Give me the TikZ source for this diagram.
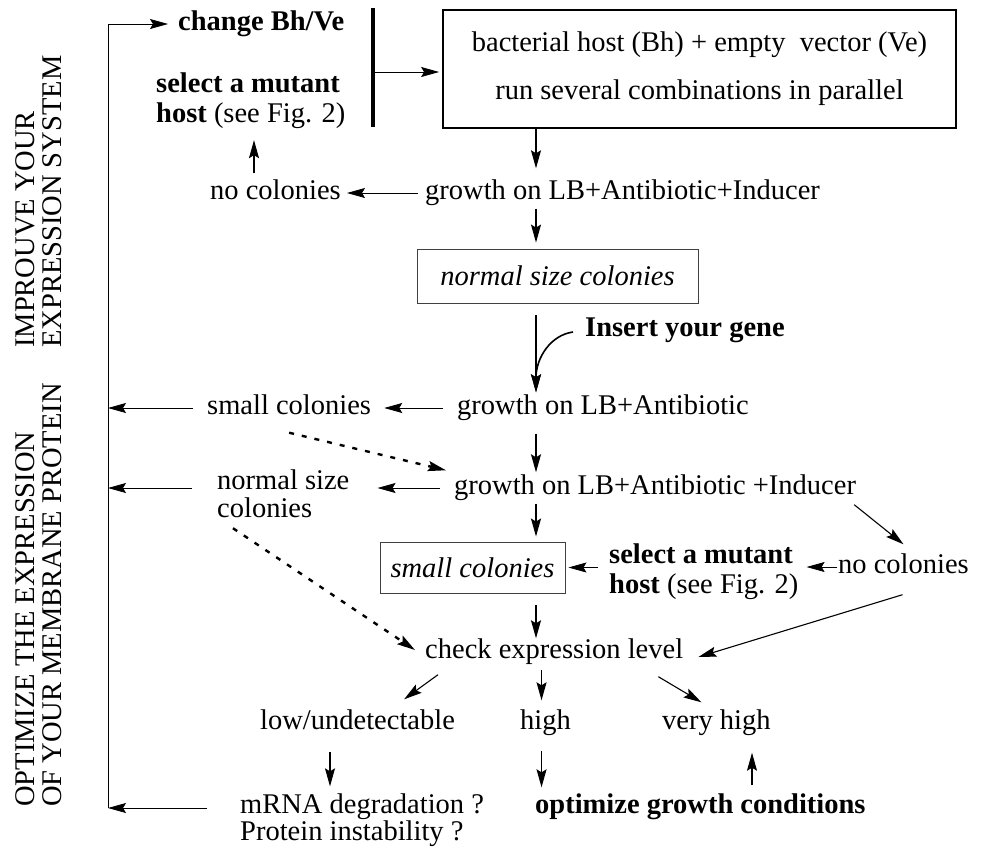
\documentclass[tikz,border=0pt]{standalone}
\usepackage{fontspec}
\setmainfont{Liberation Serif}
\usetikzlibrary{arrows.meta,calc}
\newcommand{\fsz}{\fontsize{28.5}{29}\selectfont}
\begin{document}
\begin{tikzpicture}[x=1pt,y=-1pt,
  txt/.style={font=\fsz, inner sep=0pt, anchor=west, text height=19pt, text depth=6pt},
  btxt/.style={txt, font=\fsz\bfseries},
  mtxt/.style={inner sep=0pt, anchor=west, align=left},
  boxn/.style={draw=black!75, line width=0.9pt, inner sep=0pt, font=\fsz\itshape},
  arr/.style={draw, line width=0.8pt, -{Stealth[length=18pt,width=10pt,inset=3pt]}},
  tarr/.style={arr, line width=1.6pt},
  darr/.style={arr, line width=2.4pt, dash pattern=on 5pt off 8pt},
  thinline/.style={draw, line width=0.9pt},
]
\useasboundingbox (0,0) rectangle (985,849);
\fill[white] (0,0) rectangle (985,849);

% rotated section labels
\node[mtxt, font=\fontsize{28.5}{27}\selectfont, rotate=90] (rot1) at (38.5,348) {IMPROUVE YOUR\\EXPRESSION SYSTEM};
\node[mtxt, font=\fontsize{28.5}{27}\selectfont, rotate=90] (rot2) at (38.5,807) {OPTIMIZE THE EXPRESSION\\OF YOUR MEMBRANE PROTEIN};

% nodes
\node[btxt] (chg) at (178,24) {change Bh/Ve};
\node[mtxt, font=\fontsize{28.5}{30}\selectfont] (sel1) at (156,101) {\textbf{select a mutant}\\\textbf{host} (see Fig. 2)};
\node[draw, line width=1.8pt, inner sep=0pt, minimum width=513pt, minimum height=118pt, align=center, font=\fsz] (box) at (699.5,69) {bacterial host (Bh) + empty\ \ vector (Ve)\\[19pt]run several combinations in parallel};
\node[txt] (g1) at (425,193) {growth on LB+Antibiotic+Inducer};
\node[txt] (nc1) at (210,193) {no colonies};
\node[boxn, minimum width=281pt, minimum height=54pt] (ns1) at (557.5,276) {normal size colonies};
\node[btxt] (ins) at (585,330) {Insert your gene};
\node[txt] (g2) at (457,408) {growth on LB+Antibiotic};
\node[txt] (sc1) at (207,408) {small colonies};
\node[txt] (g3) at (454,488) {growth on LB+Antibiotic +Inducer};
\node[mtxt, font=\fontsize{28.5}{28}\selectfont] (ns2) at (217,494) {normal size\\colonies};
\node[boxn, minimum width=185pt, minimum height=51pt] (sc2) at (472.5,567.5) {small colonies};
\node[mtxt, font=\fontsize{28.5}{30}\selectfont] (sel2) at (609,572) {\textbf{select a mutant}\\\textbf{host} (see Fig. 2)};
\node[txt] (nc2) at (838,567) {no colonies};
\node[txt] (chk) at (425,652) {check expression level};
\node[txt] (low) at (260,723) {low/undetectable};
\node[txt] (high) at (520,723) {high};
\node[txt] (vhigh) at (662,723) {very high};
\node[mtxt, font=\fontsize{28.5}{27}\selectfont] (mrna) at (240,820) {mRNA degradation ?\\Protein instability ?};
\node[btxt] (opt) at (535,807) {optimize growth conditions};

% helper coordinates
\coordinate (Ltop) at (108,24);
\coordinate (Lbot) at (108,808);
\coordinate (bt) at (373,8);
\coordinate (bb) at (373,127);
\coordinate (bm) at (373,72);
\coordinate (cx) at (536,0);
\coordinate (ux) at (254,0);
\coordinate (lx) at (330,0);
\coordinate (vx) at (752,0);

% left bracket line and bar
\draw[thinline] (Ltop) -- (Lbot);
\draw[line width=3.2pt] (bt) -- (bb);
\draw[arr] (Ltop) -- ($(chg.west)+(-10,0)$);
\draw[arr] (bm) -- ($(box.west |- bm)+(-3,0)$);

% upper part
\draw[arr, line width=1.1pt] (box.south -| cx) -- ($(g1.north -| cx)+(0,-12)$);
\draw[arr] ($(g1.west)+(-7,0)$) -- ($(nc1.east)+(6,0)$);
\draw[arr, line width=1.1pt] ($(nc1.north -| ux)+(0,-7)$) -- ($(sel1.south -| ux)+(0,11)$);
\draw[arr, line width=1.1pt] ($(g1.south -| cx)+(0,3)$) -- ($(ns1.north -| cx)+(0,-6)$);
\draw[tarr] ($(ns1.south -| cx)+(0,12)$) -- ($(g2.north -| cx)+(0,-3)$);
\draw[tarr] ($(ins.west)+(-12,2)$) .. controls +(-22,3) and +(0,-35) .. ($(g2.north -| cx)+(0,-3)$);

% middle part
\draw[arr] ($(g2.west)+(-14,0)$) -- ($(sc1.east)+(13,0)$);
\draw[arr] ($(sc1.west)+(-14,0)$) -- (sc1.west -| Ltop);
\draw[tarr] ($(g2.south -| cx)+(0,13)$) -- ($(g3.north -| cx)+(0,-3)$);
\draw[arr] ($(g3.west)+(-14,0)$) -- ($(g3.west -| ns2.east)+(28,0)$);
\draw[arr] ($(g3.west -| ns2.west)+(-25,0)$) -- (g3.west -| Ltop);
\draw[darr] ($(sc1.south)+(0,12)$) -- ($(g3.north west)+(-8,-5)$);
\draw[tarr] ($(g3.south -| cx)+(0,3)$) -- ($(sc2.north -| cx)+(0,-5)$);
\draw[arr, line width=1.1pt] ($(g3.south east)+(-2,4)$) -- ($(nc2.north)+(0,-10)$);
\draw[arr] ($(nc2.west)+(-1,0)$) -- ($(nc2.west -| sel2.east)+(8,0)$);
\draw[arr] ($(sel2.west |- sc2.east)+(-11,0)$) -- ($(sc2.east)+(3,0)$);

% lower part
\draw[darr] ($(ns2.south west)+(16,10)$) -- ($(chk.west)+(-10,-2)$);
\draw[tarr] ($(sc2.south -| cx)+(0,12)$) -- ($(chk.north -| cx)+(0,-1)$);
\draw[arr, line width=1.1pt] ($(nc2.south)+(-1,15)$) -- ($(chk.east)+(15,5)$);
\draw[arr, line width=1.1pt] ($(chk.south west)+(13,10)$) -- ($(low.north east)+(-51,-11)$);
\draw[arr, line width=1.1pt] ($(chk.south -| high.north)+(-4,5)$) -- ($(high.north)+(-4,-10)$);
\draw[arr, line width=1.1pt] ($(chk.south east)+(-25,12)$) -- ($(vhigh.north)+(-15,-8)$);
\draw[arr, line width=1.1pt] ($(low.south -| lx)+(0,16)$) -- ($(mrna.north -| lx)+(0,-7)$);
\draw[arr, line width=1.1pt] ($(high.south)+(-4,15)$) -- ($(opt.north -| high.south)+(-4,-7)$);
\draw[arr, line width=1.1pt] ($(opt.north -| vx)+(0,-9)$) -- ($(vhigh.south -| vx)+(0,17)$);
\draw[arr] ($(mrna.west |- Lbot)+(-33,0)$) -- (Lbot);
\end{tikzpicture}
\end{document}
